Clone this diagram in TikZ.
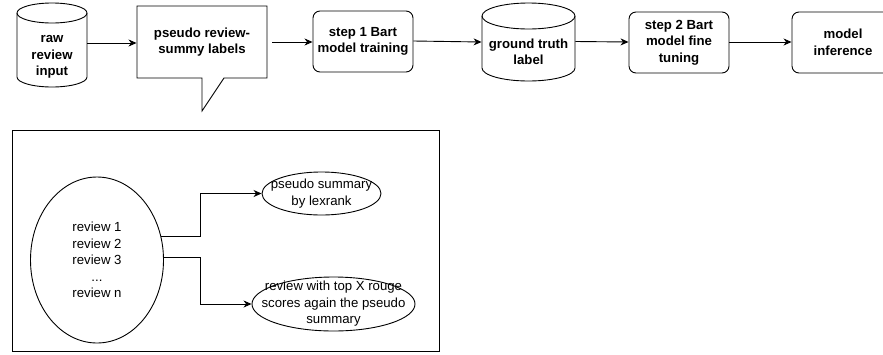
\documentclass[tikz,border=0pt]{standalone}
\usepackage{fontspec}
\setmainfont{Liberation Sans}
\usetikzlibrary{arrows.meta,shapes.geometric}
\begin{document}
\begin{tikzpicture}[x=1pt,y=-1pt,
  line width=0.9pt,
  lbl/.style={font=\fontsize{13.2}{16.5}\selectfont\bfseries, align=center, inner sep=0pt},
  small/.style={font=\fontsize{13.2}{16.5}\selectfont, align=center, inner sep=0pt},
  rbox/.style={draw, rounded corners=7pt, minimum width=100pt, minimum height=61pt, lbl},
  ell/.style={draw, ellipse, inner sep=0pt},
  arr/.style={-{Stealth[length=8pt,width=7pt,inset=2.5pt]}},
]
\useasboundingbox (0,0) rectangle (883,354);
\clip (0,0) rectangle (883,354);

% cylinder 1
\draw (17,13) -- (17,77) arc[start angle=180,end angle=0,x radius=35,y radius=10] -- (87,13);
\draw (52,13) ellipse[x radius=35,y radius=10];
\node[lbl, minimum width=70pt, minimum height=84pt] (raw) at (52,45) {};
\node[lbl] (rawt) at (52,57) {raw\\review\\input};

% callout
\draw (137,6) -- (267,6) -- (267,78) -- (224,78) -- (202,111) -- (202,78) -- (137,78) -- cycle;
\node[lbl, minimum width=130pt, minimum height=72pt] (call) at (202,42) {pseudo review-\\summy labels};

% step 1
\node[rbox] (s1) at (363,41.5) {step 1 Bart\\model training};

% cylinder 2
\draw (482,16) -- (482,68) arc[start angle=180,end angle=0,x radius=46.5,y radius=13] -- (575,16);
\draw (528.5,16) ellipse[x radius=46.5,y radius=13];
\node[lbl, minimum width=93pt, minimum height=78pt] (gt) at (528.5,42) {};
\node[lbl] (gtt) at (528.5,52) {ground truth\\label};

% step 2
\node[rbox] (s2) at (679,42.5) {step 2 Bart\\model fine\\tuning};

% model inference
\node[rbox, minimum width=102pt] (mi) at (843,42.5) {model\\inference};

\draw[arr] (raw.east |- 0,43) -- (call.west |- 0,43);
\draw[arr] (call.east |- 0,42) ++(5,0) -- (s1.west |- 0,42);
\draw[arr] (s1.east |- 0,41) -- (gt.west |- 0,42);
\draw[arr] (gt.east |- 0,41.5) -- (s2.west |- 0,42);
\draw[arr] (s2.east |- 0,42) -- (mi.west |- 0,42);

% bottom frame
\node[draw, minimum width=427pt, minimum height=221pt, inner sep=0pt] (frame) at (225.5,240.5) {};

\node[ell, minimum width=133pt, minimum height=166pt] (rev) at (97,260) {};
\node[small] (revt) at (97,260) {review 1\\review 2\\review 3\\...\\review n};

\node[ell, minimum width=119pt, minimum height=43pt] (ps) at (321.5,193.5) {};
\node[small] (pst) at (321.5,193.5) {pseudo summary\\by lexrank};
\node[ell, minimum width=163pt, minimum height=54pt] (top) at (333.5,304) {};
\node[small] (topt) at (333.5,304) {review with top X rouge\\scores again the pseudo\\summary};

\coordinate (b1) at (200,237);
\coordinate (b2) at (200,258);
\draw[arr] (rev.20) -- (rev.20 -| b1) |- (ps.west);
\draw[arr] (rev.2) -- (rev.2 -| b2) |- (top.west);
\end{tikzpicture}
\end{document}
